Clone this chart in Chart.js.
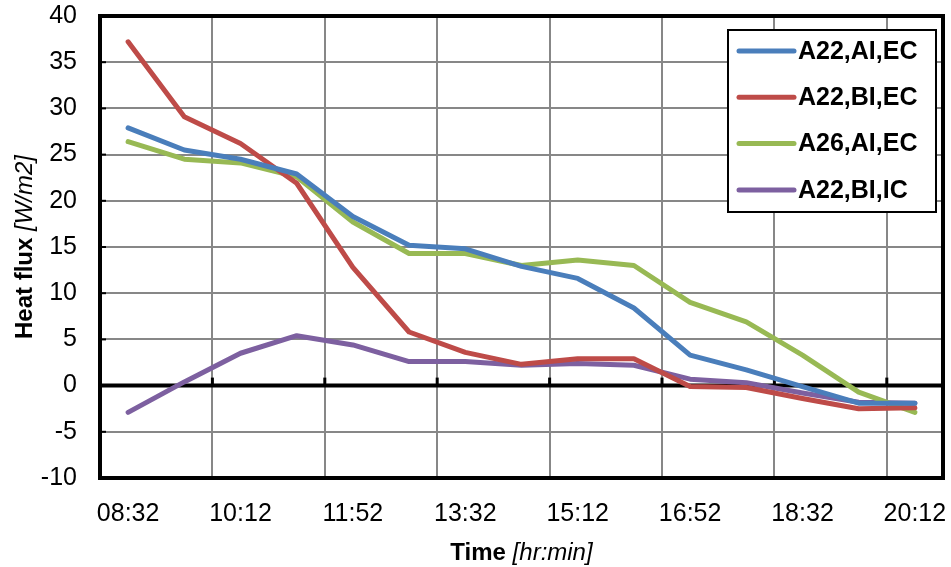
<!DOCTYPE html>
<html>
<head>
<meta charset="utf-8">
<script src="https://cdn.jsdelivr.net/npm/chart.js@4"></script>
<style>
  html, body { margin: 0; padding: 0; background: #fff; }
  #wrap { width: 951px; height: 567px; }
</style>
</head>
<body>
<div id="wrap"><canvas id="flux-chart" width="951" height="567"></canvas></div>
<script>
/* dados */
var horas = ['08:32', '09:22', '10:12', '11:02', '11:52', '12:42', '13:32', '14:22',
             '15:12', '16:02', '16:52', '17:42', '18:32', '19:22', '20:12'];
var a22AiEc = [27.9, 25.5, 24.5, 22.9, 18.3, 15.2, 14.8, 12.9, 11.6, 8.4, 3.3, 1.7, -0.1, -1.9, -1.9];
var a22BiEc = [37.2, 29.1, 26.2, 21.9, 12.8, 5.8, 3.6, 2.3, 2.9, 2.9, -0.1, -0.2, -1.4, -2.5, -2.4];
var a26AiEc = [26.4, 24.5, 24.1, 22.6, 17.7, 14.3, 14.3, 13.0, 13.6, 13.0, 9.0, 6.9, 3.3, -0.7, -2.9];
var a22BiIc = [-2.9, 0.4, 3.5, 5.4, 4.4, 2.6, 2.6, 2.2, 2.4, 2.2, 0.7, 0.3, -0.8, -1.8, -1.9];
var nomes = ['A22,AI,EC', 'A22,BI,EC', 'A26,AI,EC', 'A22,BI,IC'];
var cores = ['#4A7EBB', '#BE4B48', '#98B954', '#7D60A0'];

var fonte = '"Liberation Sans", Arial, sans-serif';
Chart.defaults.font.family = fonte;
Chart.defaults.color = '#000';

function serie(i, valores) {
  return {
    label: nomes[i],
    data: valores,
    borderColor: cores[i],
    backgroundColor: cores[i],
    borderWidth: 5,
    borderCapStyle: 'round',
    borderJoinStyle: 'round',
    pointRadius: 0,
    tension: 0
  };
}

/* moldura, marcas, legenda e titulos dos eixos */
var extras = {
  id: 'extras',
  beforeDatasetsDraw: function (chart) {
    var c = chart.ctx, a = chart.chartArea;
    var y = chart.scales.y;
    c.save();
    c.strokeStyle = '#000';
    c.lineWidth = 4;
    c.strokeRect(a.left, a.top, a.right - a.left, a.bottom - a.top);
    // linha do zero
    var y0 = y.getPixelForValue(0);
    c.beginPath(); c.moveTo(a.left, y0); c.lineTo(a.right, y0); c.stroke();
    // marcas no eixo y
    c.lineWidth = 2;
    y.ticks.forEach(function (t) {
      var p = y.getPixelForValue(t.value);
      c.beginPath(); c.moveTo(a.left, p); c.lineTo(a.left + 6, p); c.stroke();
    });
    // marcas no zero
    var w = (a.right - a.left) / horas.length;
    c.lineWidth = 3;
    for (var k = 2; k < horas.length; k += 2) {
      var px = a.left + k * w;
      c.beginPath(); c.moveTo(px, y0); c.lineTo(px, y0 - 8); c.stroke();
    }
    c.restore();
  },
  afterDraw: function (chart) {
    var c = chart.ctx, a = chart.chartArea;
    c.save();
    // legenda
    var bx = a.right - 215, by = a.top + 14, bw = 208, bh = 182;
    c.fillStyle = '#fff';
    c.fillRect(bx, by, bw, bh);
    c.strokeStyle = '#000';
    c.lineWidth = 2;
    c.strokeRect(bx, by, bw, bh);
    c.font = 'bold 25px ' + fonte;
    c.textBaseline = 'middle';
    chart.data.datasets.forEach(function (ds, i) {
      var ly = by + 21 + i * 46.3;
      c.strokeStyle = ds.borderColor;
      c.lineWidth = 5;
      c.lineCap = 'round';
      c.beginPath(); c.moveTo(bx + 11, ly); c.lineTo(bx + 66, ly); c.stroke();
      c.fillStyle = '#000';
      c.fillText(ds.label, bx + 70, ly + 1);
    });
    // titulos
    function titulo(negrito, italico, cx, cy, rot) {
      c.save();
      c.translate(cx, cy);
      c.rotate(rot);
      c.font = 'bold 24px ' + fonte;
      var w1 = c.measureText(negrito + ' ').width;
      c.font = 'italic 24px ' + fonte;
      var w2 = c.measureText(italico).width;
      var x0 = -(w1 + w2) / 2;
      c.fillStyle = '#000';
      c.textBaseline = 'middle';
      c.textAlign = 'left';
      c.font = 'bold 24px ' + fonte;
      c.fillText(negrito + ' ', x0, 0);
      c.font = 'italic 24px ' + fonte;
      c.fillText(italico, x0 + w1, 0);
      c.restore();
    }
    titulo('Heat flux', '[W/m2]', 25, (a.top + a.bottom) / 2, -Math.PI / 2);
    titulo('Time', '[hr:min]', (a.left + a.right) / 2, 553, 0);
    c.restore();
  }
};

var ctx = document.getElementById('flux-chart').getContext('2d');
var chart = new Chart(ctx, {
  type: 'line',
  data: {
    labels: horas,
    datasets: [serie(0, a22AiEc), serie(1, a22BiEc), serie(2, a26AiEc), serie(3, a22BiIc)]
  },
  options: {
    responsive: false,
    animation: false,
    layout: { padding: { top: 16, right: 8, left: 0, bottom: 0 } },
    plugins: {
      legend: { display: false },
      tooltip: { enabled: false }
    },
    scales: {
      x: {
        offset: true,
        grid: {
          offset: true,
          drawTicks: false,
          lineWidth: 2,
          color: function (c) { return c.index % 2 === 0 ? '#878787' : 'rgba(0,0,0,0)'; }
        },
        border: { display: false },
        ticks: {
          autoSkip: false,
          maxRotation: 0,
          padding: 21,
          font: { size: 25 },
          callback: function (v, i) { return i % 2 === 0 ? horas[i] : ''; }
        },
        afterFit: function (s) {
          s.height = 89;
          s.paddingLeft = 0; s.paddingRight = 0;
        }
      },
      y: {
        min: -10,
        max: 40,
        grid: { drawTicks: false, lineWidth: 2, color: '#878787' },
        border: { display: false },
        ticks: { stepSize: 5, padding: 23, font: { size: 25 } },
        afterFit: function (s) {
          s.width = 100;
          s.paddingTop = 0; s.paddingBottom = 0;
        }
      }
    }
  },
  plugins: [extras]
});
</script>
</body>
</html>
